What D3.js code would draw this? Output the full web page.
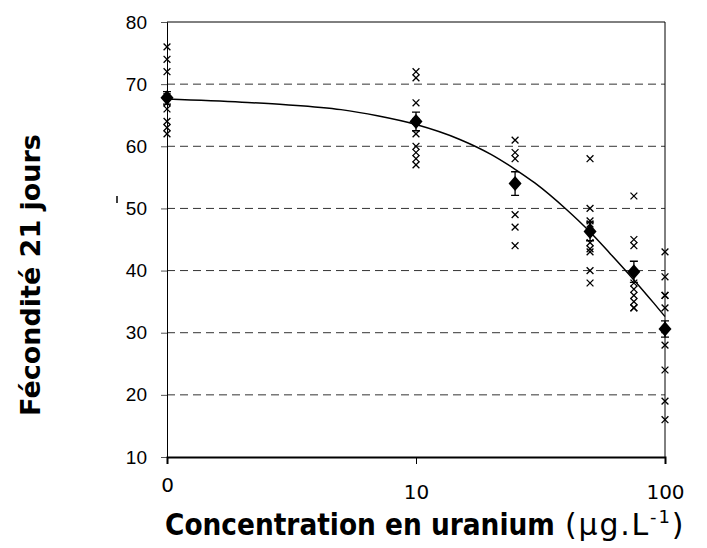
<!DOCTYPE html>
<html><head><meta charset="utf-8">
<script src="https://cdn.jsdelivr.net/npm/d3@7"></script>
<style>body{margin:0;background:#fff}</style>
</head><body>
<svg id="c" width="707" height="548"></svg>
<script>
const concentrations = [0, 10, 25, 50, 75, 100];
const means = [67.8, 64.0, 54.0, 46.3, 39.8, 30.6];
const stdErr = [1.0, 1.5, 1.9, 1.5, 1.7, 1.3];
const replicates = [
  [76, 74, 72, 68, 67, 66, 64, 63, 62],
  [72, 71, 67, 64, 62, 60, 59, 58, 57],
  [61, 59, 58, 49, 47, 44],
  [58, 50, 48, 47.5, 44.5, 43.5, 43, 40, 38],
  [52, 45, 44, 38, 37, 36, 35, 34, 34],
  [43, 39, 36, 36, 34, 28, 24, 19, 16]
];
const curveConc = [1, 2, 3, 5, 7, 10, 15, 20, 25, 30, 40, 50, 60, 75, 90, 100];
const curveVal = [67.6, 67.1, 66.7, 65.9, 64.9, 63.5, 61.1, 58.7, 56.3, 54.1, 49.9, 46.2, 42.8, 38.5, 34.8, 32.6];
const xTickValues = [1, 10, 100];
const xTickLabels = ["0", "10", "100"];
const yTickValues = [10, 20, 30, 40, 50, 60, 70, 80];
const gridValues = [20, 30, 40, 50, 60, 70];

const L = 167, R = 665, T = 22, B = 457;
const svg = d3.select("#c");
const x = d3.scaleLog().domain([1, 100]).range([L, R]);
const y = d3.scaleLinear().domain([10, 80]).range([B, T]);
const cx = c => x(c === 0 ? 1 : c);

// gridlines
svg.append("g").selectAll("line").data(gridValues).join("line")
  .attr("x1", L).attr("x2", R).attr("y1", d => y(d)).attr("y2", d => y(d))
  .attr("stroke", "#333").attr("stroke-width", 1).attr("stroke-dasharray", "8,5");

// frame top/right
svg.append("line").attr("x1", L).attr("x2", R).attr("y1", y(80)).attr("y2", y(80)).attr("stroke", "#000");
svg.append("line").attr("x1", R).attr("x2", R).attr("y1", y(80)).attr("y2", y(10)).attr("stroke", "#000");

// y axis
const yAxis = d3.axisLeft(y).tickValues(yTickValues).tickSize(6).tickPadding(14).tickFormat(d3.format("d"));
const gy = svg.append("g").attr("transform", `translate(${L},0)`).call(yAxis);
gy.select(".domain").attr("stroke", "#000");
gy.selectAll(".tick line").attr("stroke", "#555");
gy.selectAll("text").attr("font-family", "Liberation Sans, Arial, sans-serif").attr("font-size", 19).attr("fill", "#000");

// x axis
const xAxis = d3.axisBottom(x).tickValues(xTickValues).tickSize(7).tickPadding(0)
  .tickFormat((d, i) => xTickLabels[i]);
const gx = svg.append("g").attr("transform", `translate(0,${B})`).call(xAxis);
gx.select(".domain").attr("stroke", "#000").attr("stroke-width", 2);
gx.selectAll(".tick line").attr("stroke", "#000");
gx.selectAll("text").attr("font-family", "DejaVu Sans, Verdana, sans-serif").attr("font-size", 20).attr("fill", "#000")
  .attr("dy", null).attr("dominant-baseline", "central")
  .attr("y", (d, i) => i === 0 ? 28 : 35);

// curve
const line = d3.line().x((d, i) => x(curveConc[i])).y(d => y(d)).curve(d3.curveMonotoneX);
svg.append("path").datum(curveVal).attr("d", line).attr("fill", "none").attr("stroke", "#000").attr("stroke-width", 1.5);

// replicates (x markers)
const s = 3.4;
concentrations.forEach((c, i) => {
  svg.append("g").selectAll("path").data(replicates[i]).join("path")
    .attr("d", d => `M${cx(c) - s},${y(d) - s}L${cx(c) + s},${y(d) + s}M${cx(c) - s},${y(d) + s}L${cx(c) + s},${y(d) - s}`)
    .attr("stroke", "#000").attr("stroke-width", 1.3).attr("fill", "none");
});

// error bars
const eb = svg.append("g");
concentrations.forEach((c, i) => {
  const X = cx(c), y1 = y(means[i] + stdErr[i]), y2 = y(means[i] - stdErr[i]);
  eb.append("path").attr("d", `M${X},${y1}L${X},${y2}M${X - 4},${y1}L${X + 4},${y1}M${X - 4},${y2}L${X + 4},${y2}`)
    .attr("stroke", "#000").attr("stroke-width", 1.3).attr("fill", "none");
});

// means (diamonds)
svg.append("g").selectAll("path").data(means).join("path")
  .attr("d", (d, i) => { const X = cx(concentrations[i]), Y = y(d); return `M${X},${Y - 7.5}L${X + 6.5},${Y}L${X},${Y + 7.5}L${X - 6.5},${Y}Z`; })
  .attr("fill", "#000");

// small stray mark
svg.append("line").attr("x1", 117).attr("x2", 117).attr("y1", 196).attr("y2", 203).attr("stroke", "#000").attr("stroke-width", 1.5);

// x title: bold part
const xt = svg.append("text").attr("x", 165).attr("y", 535)
  .attr("font-family", "DejaVu Sans Condensed, DejaVu Sans, Verdana, sans-serif").attr("font-weight", "bold")
  .attr("font-size", 22).attr("fill", "#000").text("Concentration en uranium");
{
  const w = xt.node().getComputedTextLength();
  xt.attr("font-size", 22 * 390 / w);
}
// x title: unit part
const xu = svg.append("text").attr("x", 565).attr("y", 535)
  .attr("font-family", "DejaVu Sans, Verdana, sans-serif").attr("font-size", 30).attr("letter-spacing", 1.8).attr("fill", "#000");
xu.append("tspan").text("(µg.L");
xu.append("tspan").attr("dy", -12).attr("font-size", "0.6em").text("-1");
xu.append("tspan").attr("dy", 12).text(")");

// y title
const yt = svg.append("text").attr("transform", "translate(40,275) rotate(-90)").attr("text-anchor", "middle")
  .attr("font-family", "DejaVu Sans, Verdana, sans-serif").attr("font-weight", "bold").attr("font-size", 22).attr("fill", "#000")
  .text("Fécondité 21 jours");
{
  const w = yt.node().getComputedTextLength();
  yt.attr("font-size", 22 * 282 / w);
}
</script>
</body></html>
